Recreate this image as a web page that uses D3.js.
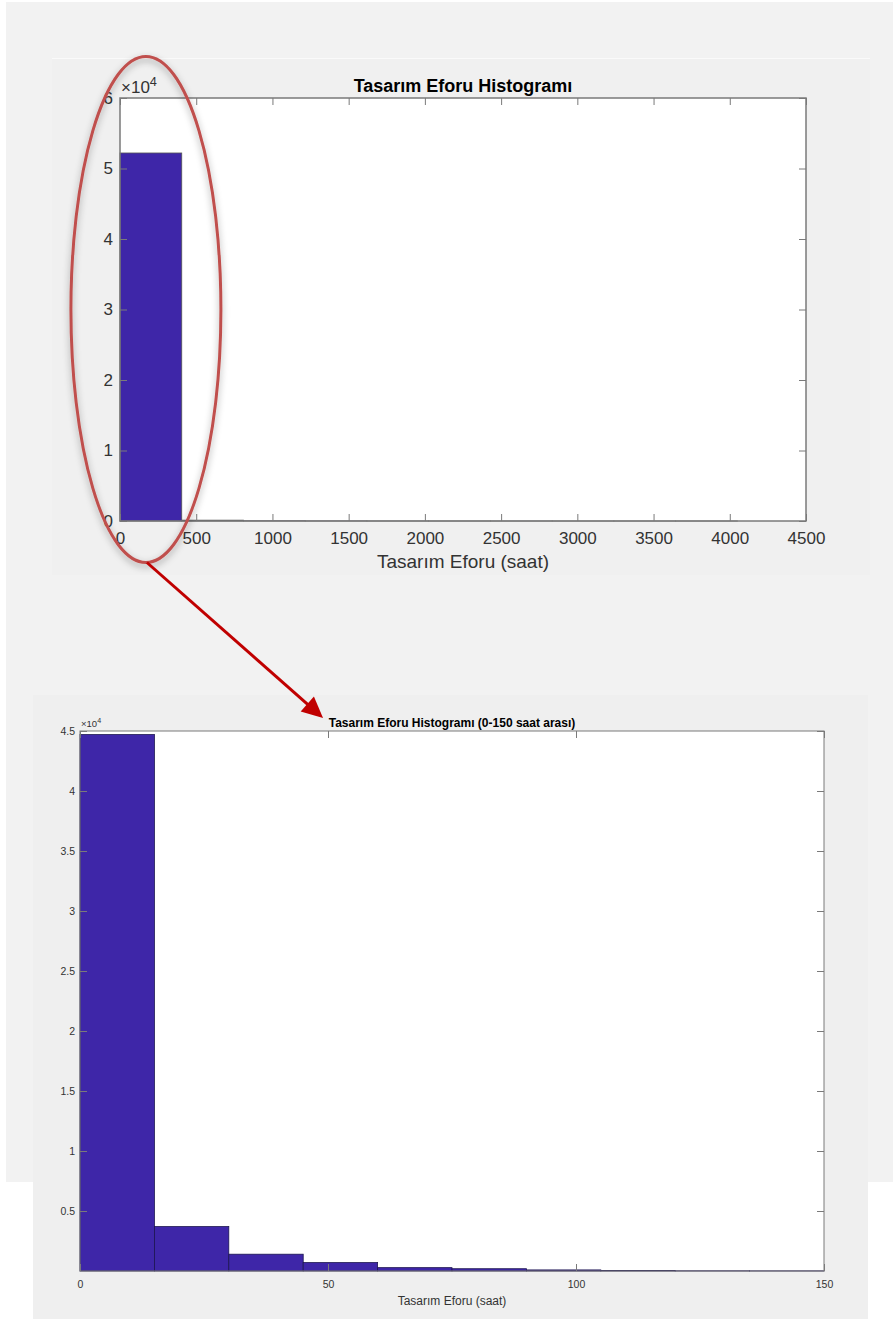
<!DOCTYPE html>
<html>
<head>
<meta charset="utf-8">
<script src="https://cdn.jsdelivr.net/npm/d3@7"></script>
<style>
  html, body { margin: 0; padding: 0; background: #fff; }
  svg { display: block; font-family: "Liberation Sans", Arial, Helvetica, sans-serif; }
</style>
</head>
<body>
<div id="graph"></div>
<script>
// full range histogram (saat), bin edges and counts
const topEdges = [0, 405, 810, 1215, 1620, 2025, 2430, 2835, 3240, 3645, 4050];
const topCounts = [52200, 120, 35, 15, 8, 4, 2, 1, 1, 1];
const topXTicks = [0, 500, 1000, 1500, 2000, 2500, 3000, 3500, 4000, 4500];
const topYTicks = [0, 10000, 20000, 30000, 40000, 50000, 60000];

// zoomed histogram 0-150 saat
const botEdges = [0, 15, 30, 45, 60, 75, 90, 105, 120, 135, 150];
const botCounts = [44700, 3700, 1400, 700, 280, 190, 90, 40, 15, 10];
const botXTicks = [0, 50, 100, 150];
const botYTicks = [5000, 10000, 15000, 20000, 25000, 30000, 35000, 40000, 45000];

const W = 893, H = 1319;
const barColour = '#3e26a8';
const axisColour = '#7a7a7a';
const textColour = '#333333';

const svg = d3.select('#graph')
  .append('svg')
  .attr('width', W)
  .attr('height', H)
  .attr('viewBox', '0 0 ' + W + ' ' + H);

const defs = svg.append('defs');
defs.append('filter')
  .attr('id', 'shadow')
  .attr('x', '-30%').attr('y', '-10%')
  .attr('width', '160%').attr('height', '120%')
  .append('feDropShadow')
  .attr('dx', 0).attr('dy', 3)
  .attr('stdDeviation', 3.5)
  .attr('flood-color', '#000')
  .attr('flood-opacity', 0.35);

// background panels (screenshot look)
svg.append('rect').attr('x', 6).attr('y', 2).attr('width', W - 6).attr('height', 1180).attr('fill', '#f2f2f2');
svg.append('rect').attr('x', 52).attr('y', 58).attr('width', 818).attr('height', 517).attr('fill', '#f0f0f0');
svg.append('line').attr('x1', 52).attr('x2', 870).attr('y1', 58.5).attr('y2', 58.5).attr('stroke', '#fafafa');
svg.append('rect').attr('x', 33).attr('y', 695).attr('width', 835).attr('height', H - 695).attr('fill', '#efefef');

function drawHist(opts) {
  const m = opts.box;
  const x = d3.scaleLinear().domain(opts.xDomain).range([m.left, m.right]);
  const y = d3.scaleLinear().domain(opts.yDomain).range([m.bottom, m.top]);

  const g = svg.append('g');

  g.append('rect')
    .attr('x', m.left).attr('y', m.top)
    .attr('width', m.right - m.left).attr('height', m.bottom - m.top)
    .attr('fill', '#fff');

  const bins = opts.counts.map((c, i) => ({ x0: opts.edges[i], x1: opts.edges[i + 1], count: c }));

  g.selectAll('rect.bar')
    .data(bins)
    .enter()
    .append('rect')
    .attr('class', 'bar')
    .attr('x', d => x(d.x0))
    .attr('y', d => y(d.count))
    .attr('width', d => x(d.x1) - x(d.x0))
    .attr('height', d => y(0) - y(d.count))
    .attr('fill', barColour)
    .attr('stroke', opts.edgeColour)
    .attr('stroke-width', 0.8);

  const fs = opts.tickFont;

  // bottom axis with labels, ticks pointing inward
  const xAxis = g.append('g')
    .attr('transform', 'translate(0,' + m.bottom + ')')
    .call(d3.axisBottom(x).tickValues(opts.xTicks).tickSize(-opts.tick).tickPadding(opts.xPad).tickFormat(d3.format('d')));
  // mirror ticks on top
  const xTop = g.append('g')
    .attr('transform', 'translate(0,' + m.top + ')')
    .call(d3.axisTop(x).tickValues(opts.xTicks).tickSize(-opts.tick).tickFormat(''));
  const yAxis = g.append('g')
    .attr('transform', 'translate(' + m.left + ',0)')
    .call(d3.axisLeft(y).tickValues(opts.yTicks).tickSize(-opts.tick).tickPadding(opts.yPad).tickFormat(d => String(d / 10000)));
  const yRight = g.append('g')
    .attr('transform', 'translate(' + m.right + ',0)')
    .call(d3.axisRight(y).tickValues(opts.yTicks).tickSize(-opts.tick).tickFormat(''));

  [xAxis, xTop, yAxis, yRight].forEach(a => {
    a.select('.domain').remove();
    a.selectAll('line').attr('stroke', axisColour).attr('stroke-width', 1);
    a.selectAll('text').attr('fill', textColour).style('font-size', fs + 'px').style('font-family', null);
  });

  g.append('rect')
    .attr('x', m.left).attr('y', m.top)
    .attr('width', m.right - m.left).attr('height', m.bottom - m.top)
    .attr('fill', 'none')
    .attr('stroke', axisColour)
    .attr('stroke-width', opts.frameWidth);

  // exponent label
  const ex = g.append('text')
    .attr('x', m.left + 1)
    .attr('y', m.top - opts.expGap)
    .attr('fill', textColour)
    .style('font-size', opts.expFont + 'px')
    .text('\u00d710');
  ex.append('tspan')
    .attr('dy', -opts.expFont * 0.4)
    .style('font-size', (opts.expFont * 0.75) + 'px')
    .text('4');

  g.append('text')
    .attr('x', (m.left + m.right) / 2)
    .attr('y', opts.titleY)
    .attr('text-anchor', 'middle')
    .attr('fill', '#000')
    .style('font-size', opts.titleFont + 'px')
    .style('font-weight', 'bold')
    .text(opts.title);

  g.append('text')
    .attr('x', (m.left + m.right) / 2)
    .attr('y', opts.labelY)
    .attr('text-anchor', 'middle')
    .attr('fill', textColour)
    .style('font-size', opts.labelFont + 'px')
    .text('Tasar\u0131m Eforu (saat)');

  return { x: x, y: y };
}

const topChart = drawHist({
  box: { left: 120, right: 806, top: 98, bottom: 521 },
  xDomain: [0, 4500], yDomain: [0, 60000],
  edges: topEdges, counts: topCounts,
  xTicks: topXTicks, yTicks: topYTicks,
  tick: 7, xPad: 11, yPad: 7, tickFont: 17, frameWidth: 1.5,
  edgeColour: '#555',
  expFont: 17, expGap: 5,
  title: 'Tasar\u0131m Eforu Histogram\u0131', titleY: 92, titleFont: 18,
  labelY: 568, labelFont: 19
});

const botChart = drawHist({
  box: { left: 80, right: 824, top: 731, bottom: 1271 },
  xDomain: [0, 150], yDomain: [0, 45000],
  edges: botEdges, counts: botCounts,
  xTicks: botXTicks, yTicks: botYTicks,
  tick: 7, xPad: 10, yPad: 5, tickFont: 10.5, frameWidth: 1,
  edgeColour: '#1c1450',
  expFont: 9.5, expGap: 4,
  title: 'Tasar\u0131m Eforu Histogram\u0131 (0-150 saat aras\u0131)', titleY: 727, titleFont: 12,
  labelY: 1305, labelFont: 12
});

// annotation: ellipse around first bin, arrow to zoomed chart
const ecx = topChart.x(170), ecy = topChart.y(30000);
const erx = 75, ery = 253;
svg.append('ellipse')
  .attr('cx', ecx).attr('cy', ecy)
  .attr('rx', erx).attr('ry', ery)
  .attr('fill', 'none')
  .attr('stroke', '#c0504d')
  .attr('stroke-width', 3)
  .attr('filter', 'url(#shadow)');

const start = [ecx + 1, ecy + ery];
const tip = [botChart.x(49), 718];
const dx = tip[0] - start[0], dy = tip[1] - start[1];
const len = Math.sqrt(dx * dx + dy * dy);
const ux = dx / len, uy = dy / len;
const headLen = 21, headW = 10;
const base = [tip[0] - ux * headLen, tip[1] - uy * headLen];

svg.append('line')
  .attr('x1', start[0]).attr('y1', start[1])
  .attr('x2', base[0] + ux * 2).attr('y2', base[1] + uy * 2)
  .attr('stroke', '#c00000')
  .attr('stroke-width', 3);

svg.append('path')
  .attr('d', d3.line()([
    tip,
    [base[0] - uy * headW, base[1] + ux * headW],
    [base[0] + uy * headW, base[1] - ux * headW]
  ]) + 'Z')
  .attr('fill', '#c00000');
</script>
</body>
</html>
